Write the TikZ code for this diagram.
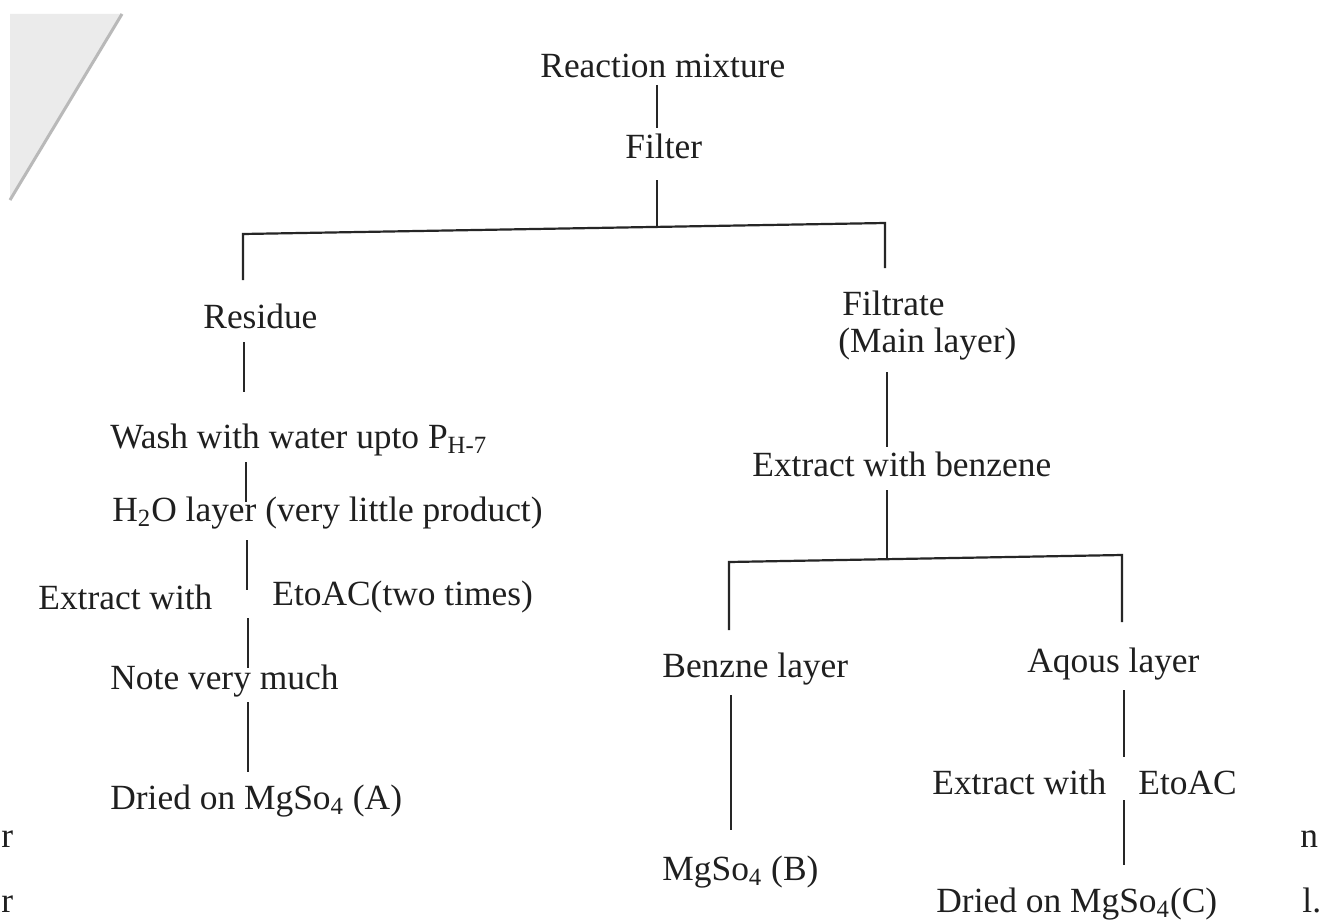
\documentclass[tikz,border=0pt]{standalone}
\usepackage{fontspec}
\setmainfont{Liberation Serif}
\begin{document}
\begin{tikzpicture}[x=0.5pt,y=-0.5pt,
  txt/.style={font=\fontsize{17.7}{21}\selectfont, inner sep=0pt, anchor=base west, text=black!88},
  conn/.style={line width=1.1pt, black!85}]
\useasboundingbox (0,0) rectangle (1321,920);
\fill[white] (0,0) rectangle (1321,920);
% page fold artefact
\fill[gray!16] (10,14) -- (122,14) -- (10,200) -- cycle;
\draw[gray!55, line width=1.5pt] (122,14) -- (10,200);

% texts
\node[txt] (rm) at (540,78) {Reaction mixture};
\node[txt] (filter) at (625,158) {Filter};
\node[txt] (residue) at (203,328) {Residue};
\node[txt] (wash) at (110,448) {Wash with water upto P\textsubscript{H-7}};
\node[txt] (h2o) at (112,521) {H\textsubscript{2}O layer (very little product)};
\node[txt] (ext1) at (38,609) {Extract with};
\node[txt] (eto1) at (272,605) {EtoAC(two times)};
\node[txt] (note) at (110,689) {Note very much};
\node[txt] (driedA) at (110,809) {Dried on MgSo\textsubscript{4} (A)};
\node[txt] (filtrate) at (842,315) {Filtrate};
\node[txt] (mainl) at (838,352) {(Main layer)};
\node[txt] (extb) at (752,476) {Extract with benzene};
\node[txt] (benz) at (662,677) {Benzne layer};
\node[txt] (mgB) at (662,880) {MgSo\textsubscript{4} (B)};
\node[txt] (aq) at (1027,672) {Aqous layer};
\node[txt] (ext2) at (932,794) {Extract with};
\node[txt] (eto2) at (1138,794) {EtoAC};
\node[txt] (driedC) at (936,912) {Dried on MgSo\textsubscript{4}(C)};
% fragments of letters at the page edges
\node[txt] (edgeA) at (1,847) {r};
\node[txt] (edgeB) at (1,912) {r};
\node[txt] (edgeC) at (1300,847) {n};
\node[txt] (edgeD) at (1302,912) {l.};

% connector points
\coordinate (a1) at (657,85);   \coordinate (a2) at (657,128);
\coordinate (b1) at (657,180);  \coordinate (b2) at (657,228);
\coordinate (barL) at (243,234); \coordinate (barR) at (885,223);
\coordinate (c1) at (243,280);  \coordinate (d1) at (885,268);
\coordinate (e1) at (244,342);  \coordinate (e2) at (244,392);
\coordinate (f1) at (246,462);  \coordinate (f2) at (246,502);
\coordinate (g1) at (247,540);  \coordinate (g2) at (247,590);
\coordinate (h1) at (248,618);  \coordinate (h2) at (248,668);
\coordinate (i1) at (248,702);  \coordinate (i2) at (248,772);
\coordinate (k1) at (887,372);  \coordinate (k2) at (887,447);
\coordinate (m1) at (887,490);  \coordinate (m2) at (887,560);
\coordinate (bar2L) at (729,562); \coordinate (bar2R) at (1122,555);
\coordinate (n1) at (729,630);  \coordinate (o1) at (1122,622);
\coordinate (p1) at (731,695);  \coordinate (p2) at (731,830);
\coordinate (q1) at (1124,690); \coordinate (q2) at (1124,757);
\coordinate (r1) at (1124,800); \coordinate (r2) at (1124,865);

\draw[conn] (a1) -- (a2);
\draw[conn] (b1) -- (b2);
\draw[conn] (c1) -- (barL) -- (barR) -- (d1);
\draw[conn] (e1) -- (e2);
\draw[conn] (f1) -- (f2);
\draw[conn] (g1) -- (g2);
\draw[conn] (h1) -- (h2);
\draw[conn] (i1) -- (i2);
\draw[conn] (k1) -- (k2);
\draw[conn] (m1) -- (m2);
\draw[conn] (n1) -- (bar2L) -- (bar2R) -- (o1);
\draw[conn] (p1) -- (p2);
\draw[conn] (q1) -- (q2);
\draw[conn] (r1) -- (r2);
\end{tikzpicture}
\end{document}
